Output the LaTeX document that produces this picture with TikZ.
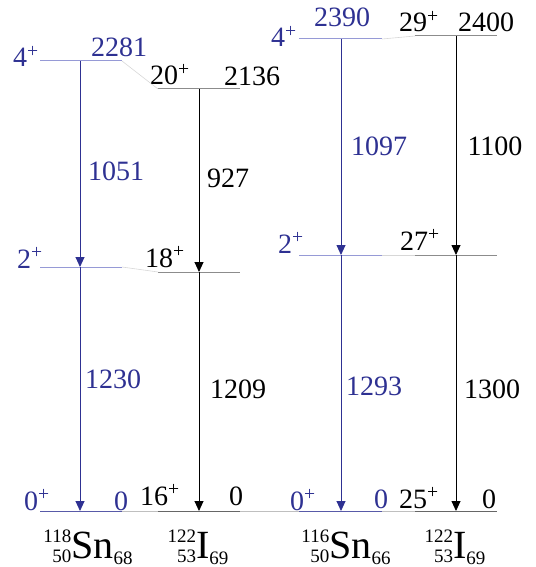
\documentclass[tikz,border=0pt]{standalone}
\usepackage{fontspec}
\setmainfont{Liberation Serif}
\usepackage{tikz}
\usetikzlibrary{arrows.meta}

\definecolor{snblue}{RGB}{46,49,146}
\definecolor{snlight}{RGB}{150,154,214}
\definecolor{igray}{RGB}{140,140,140}
\definecolor{linkgray}{RGB}{215,215,215}

\newcommand{\isotope}[4]{%
  \raisebox{-4pt}[\height][0pt]{\fontsize{19}{20}\selectfont\begin{tabular}[b]{@{}r@{}}#1\\#2\end{tabular}}%
  {\fontsize{40}{40}\selectfont #3}%
  {\fontsize{19}{20}\selectfont\raisebox{-6pt}[\height][0pt]{#4}}}

\begin{document}
\begin{tikzpicture}[x=1pt, y=-1pt,
  snlev/.style={line width=1pt, snlight},
  ilev/.style={line width=1pt, igray},
  gslev/.style={line width=1pt, snblue!80},
  gilev/.style={line width=1pt, black!60},
  ground/.style={line width=1pt, black!25},
  link/.style={line width=0.6pt, linkgray},
  snarrow/.style={line width=0.9pt, snblue, -{Triangle[length=10pt,width=9pt]}},
  iarrow/.style={line width=0.9pt, black, -{Triangle[length=10pt,width=9pt]}},
  lbl/.style={font=\fontsize{28}{30}\selectfont, inner sep=0pt, anchor=base},
  snlbl/.style={lbl, snblue},
  nuc/.style={inner sep=0pt, anchor=base},
]
\useasboundingbox (0,0) rectangle (535,567);

% --- level end points ---
\coordinate (a4l) at (40,61);   \coordinate (a4r) at (122,61);  \coordinate (a4) at (80,61);
\coordinate (a2l) at (40,267);  \coordinate (a2r) at (122,267); \coordinate (a2) at (80,267);
\coordinate (a0l) at (40,511);  \coordinate (a0r) at (122,511); \coordinate (a0) at (80,511);
\coordinate (b20l) at (158,89);  \coordinate (b20r) at (240,89);  \coordinate (b20) at (199,89);
\coordinate (b18l) at (158,272); \coordinate (b18r) at (240,272); \coordinate (b18) at (199,272);
\coordinate (b16l) at (158,511); \coordinate (b16r) at (240,511); \coordinate (b16) at (199,511);
\coordinate (c4l) at (299,39);  \coordinate (c4r) at (382,39);  \coordinate (c4) at (341,39);
\coordinate (c2l) at (299,255); \coordinate (c2r) at (382,255); \coordinate (c2) at (341,255);
\coordinate (c0l) at (299,511); \coordinate (c0r) at (382,511); \coordinate (c0) at (341,511);
\coordinate (d29l) at (415,36);  \coordinate (d29r) at (497,36);  \coordinate (d29) at (456,36);
\coordinate (d27l) at (415,255); \coordinate (d27r) at (497,255); \coordinate (d27) at (456,255);
\coordinate (d25l) at (415,511); \coordinate (d25r) at (497,511); \coordinate (d25) at (456,511);

% --- levels and links ---
\draw[ground] (a0l) -- (d25r);
\draw[snlev] (a4l) -- (a4r);  \draw[snlev] (a2l) -- (a2r);  \draw[gslev] (a0l) -- (a0r);
\draw[ilev] (b20l) -- (b20r); \draw[ilev] (b18l) -- (b18r); \draw[gilev] (b16l) -- (b16r);
\draw[snlev] (c4l) -- (c4r);  \draw[snlev] (c2l) -- (c2r);  \draw[gslev] (c0l) -- (c0r);
\draw[ilev] (d29l) -- (d29r); \draw[ilev] (d27l) -- (d27r); \draw[gilev] (d25l) -- (d25r);
\draw[link] (a4r) -- (b20l);
\draw[link] (a2r) -- (b18l);
\draw[link] (c4r) -- (d29l);
\draw[link] (c2r) -- (d27l);

% --- transitions ---
\draw[snarrow] (a4) -- (a2);
\draw[snarrow] (a2) -- (a0);
\draw[iarrow] (b20) -- (b18);
\draw[iarrow] (b18) -- (b16);
\draw[snarrow] (c4) -- (c2);
\draw[snarrow] (c2) -- (c0);
\draw[iarrow] (d29) -- (d27);
\draw[iarrow] (d27) -- (d25);

% --- 118Sn ---
\node[snlbl] (a4spin) at (26,67) {4\textsuperscript{+}};
\node[snlbl] (a4en) at (119,57) {2281};
\node[snlbl] (a2spin) at (30,268) {2\textsuperscript{+}};
\node[snlbl] (a0spin) at (37,510) {0\textsuperscript{+}};
\node[snlbl] (a0en) at (121,510) {0};
\node[snlbl] (a42) at (116,180) {1051};
\node[snlbl] (a20) at (113,388) {1230};
\node[nuc] (anuc) at (88,558) {\isotope{118}{50}{Sn}{68}};

% --- 122I, first band ---
\node[lbl] (b20spin) at (170,85) {20\textsuperscript{+}};
\node[lbl] (b20en) at (252,86) {2136};
\node[lbl] (b18spin) at (165,267) {18\textsuperscript{+}};
\node[lbl] (b16spin) at (160,505) {16\textsuperscript{+}};
\node[lbl] (b16en) at (236,505) {0};
\node[lbl] (b2018) at (228,187) {927};
\node[lbl] (b1816) at (238,398) {1209};
\node[nuc] (bnuc) at (198,558) {\isotope{122}{53}{I}{69}};

% --- 116Sn ---
\node[snlbl] (c4spin) at (284,47) {4\textsuperscript{+}};
\node[snlbl] (c4en) at (342,27) {2390};
\node[snlbl] (c2spin) at (291,253) {2\textsuperscript{+}};
\node[snlbl] (c0spin) at (303,510) {0\textsuperscript{+}};
\node[snlbl] (c0en) at (381,508) {0};
\node[snlbl] (c42) at (379,155) {1097};
\node[snlbl] (c20) at (374,395) {1293};
\node[nuc] (cnuc) at (346,558) {\isotope{116}{50}{Sn}{66}};

% --- 122I, second band ---
\node[lbl] (d29spin) at (419,32) {29\textsuperscript{+}};
\node[lbl] (d29en) at (486,32) {2400};
\node[lbl] (d27spin) at (420,250) {27\textsuperscript{+}};
\node[lbl] (d25spin) at (419,508) {25\textsuperscript{+}};
\node[lbl] (d25en) at (489,508) {0};
\node[lbl] (d2927) at (495,155) {1100};
\node[lbl] (d2725) at (492,398) {1300};
\node[nuc] (dnuc) at (455,558) {\isotope{122}{53}{I}{69}};

\end{tikzpicture}
\end{document}
